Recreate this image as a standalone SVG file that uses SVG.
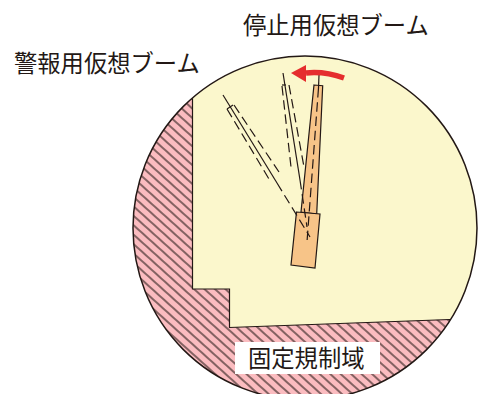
<svg xmlns="http://www.w3.org/2000/svg" width="483" height="394" viewBox="0 0 483 394">
<style>
.l{font-family:"Noto Sans CJK JP","Noto Sans",sans-serif;font-size:23.3px;fill:#231815}
.s{fill:none;stroke:#231815;stroke-width:1.2}
.d{fill:none;stroke:#231815;stroke-width:1.2;stroke-dasharray:9.500 4.800}
.b{fill:#f7c488;stroke:#231815;stroke-width:1.2}
</style>
<defs>
<pattern id="h" width="7" height="7" patternUnits="userSpaceOnUse" patternTransform="rotate(42)">
<rect width="7" height="7" fill="#fbbcc0"/>
<line x1="0" y1="1" x2="7" y2="1" stroke="#231815" stroke-width="1.1"/>
</pattern>
<clipPath id="c"><circle cx="305" cy="228" r="172"/></clipPath>
</defs>
<g id="region-area">
<circle cx="305" cy="228" r="172" fill="#fbf7cc"/>
<g clip-path="url(#c)">
<path id="fixed-area" d="M120 40H192.500V289H229.500V327.500L460 319V410H120Z" fill="url(#h)"/>
<path class="s" d="M192.500 90V289H229.500V327.500L450 319.500"/>
</g>
<circle cx="305" cy="228" r="172" fill="none" stroke="#231815" stroke-width="1.500"/>
</g>
<g id="current-boom">
<path class="b" d="M314 85L322.700 85.700L316.700 214L301 212Z"/>
<path class="b" d="M296.500 212L320 214L315 268L291 265Z"/>
</g>
<g id="connectors">
<path class="s" d="M319 75L318.500 88"/>
<path class="d" d="M318.500 88L307 242"/>
<path class="s" d="M283 73L300 180"/>
<path class="d" d="M300 180L307 227"/>
<path class="d" d="M282 86L291 167M289 85L304 167"/>
<path class="s" d="M282 85H286"/>
<path class="s" d="M223 95L277 183"/>
<path class="d" d="M277 183L310 237"/>
<path class="d" d="M227 109L269 179M234 105L279 172"/>
<path class="s" d="M227 109L233 105"/>
<path d="M344 78C330 73 316 72 306 73" fill="none" stroke="#e52d2e" stroke-width="5.500"/>
<path d="M291 73L306 65L306 82Z" fill="#e52d2e"/>
</g>
<g id="label-fixed">
<rect x="235" y="342" width="145" height="32" fill="#fff"/>
<text class="l" x="248" y="367">固定規制域</text>
</g>
<g id="label-stop"><text class="l" x="243" y="34">停止用仮想ブーム</text></g>
<g id="label-warn"><text class="l" x="14" y="72">警報用仮想ブーム</text></g>
</svg>
